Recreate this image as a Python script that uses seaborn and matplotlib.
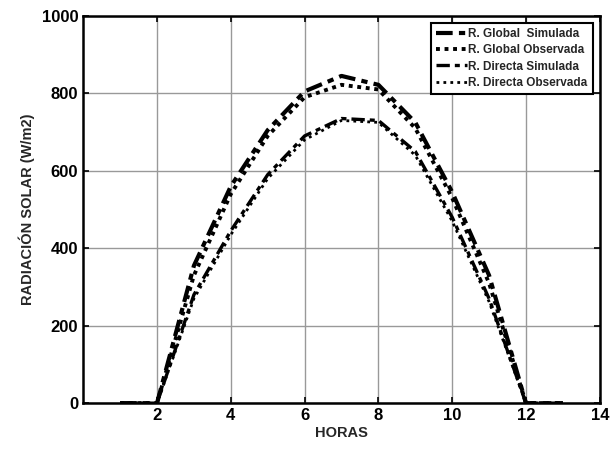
import matplotlib
matplotlib.use("Agg")
import matplotlib.pyplot as plt
import seaborn as sns
import pandas as pd

horas = [1, 2, 3, 4, 5, 6, 7, 8, 9, 10, 11, 12, 13]
global_sim = [0, 0, 355, 560, 705, 805, 845, 822, 725, 545, 330, 0, 0]
global_obs = [0, 0, 330, 540, 690, 790, 822, 810, 710, 530, 310, 0, 0]
directa_sim = [0, 0, 280, 445, 590, 690, 735, 730, 650, 480, 270, 0, 0]
directa_obs = [0, 0, 270, 435, 580, 680, 730, 725, 640, 470, 262, 0, 0]

series = {
    "R. Global  Simulada": global_sim,
    "R. Global Observada": global_obs,
    "R. Directa Simulada": directa_sim,
    "R. Directa Observada": directa_obs,
}

sns.set_theme(style="white")
plt.rcParams['font.family'] = ['Liberation Sans', 'DejaVu Sans']

fig = plt.figure(figsize=(6.12, 4.54), dpi=100)
ax = fig.add_axes([0.136, 0.112, 0.844, 0.853])

styles = {
    "R. Global  Simulada": dict(linestyle=(0, (4, 1.5, 1.5, 1.5)), linewidth=3.0),
    "R. Global Observada": dict(linestyle=(0, (1, 1.2)), linewidth=2.8),
    "R. Directa Simulada": dict(linestyle=(0, (4, 1.5, 1.5, 1.5)), linewidth=2.4),
    "R. Directa Observada": dict(linestyle=(0, (1, 1.5)), linewidth=2.0),
}

for name, vals in series.items():
    df = pd.DataFrame({"HORAS": horas, "val": vals})
    sns.lineplot(data=df, x="HORAS", y="val", ax=ax, color="black",
                 label=name, **styles[name])

ax.set_xlim(0, 14)
ax.set_ylim(0, 1000)
ax.set_xticks([2, 4, 6, 8, 10, 12, 14])
ax.set_yticks([0, 200, 400, 600, 800, 1000])
ax.grid(True, color="#999999", linewidth=1.0)
for s in ax.spines.values():
    s.set_color("black")
    s.set_linewidth(1.8)
ax.tick_params(direction="in", length=4, width=1.2, colors="black",
               labelsize=12, top=True, right=True, bottom=True, left=True)
for lbl in ax.get_xticklabels() + ax.get_yticklabels():
    lbl.set_fontweight("bold")
ax.set_xlabel("HORAS", fontsize=10.5, labelpad=2, fontweight="semibold")
ax.set_ylabel("RADIACIÓN SOLAR (W/m2)", fontsize=10.5, labelpad=5,
              fontweight="semibold")

leg = ax.legend(loc="upper right", fontsize=8.5, frameon=True, fancybox=False,
                edgecolor="black", framealpha=1, handlelength=2.6,
                handletextpad=0.1, borderpad=0.45, labelspacing=0.35,
                borderaxespad=0.6, prop={"weight": "semibold", "size": 8.5})
leg.get_frame().set_linewidth(1.5)

fig.savefig("out.png", dpi=100)
